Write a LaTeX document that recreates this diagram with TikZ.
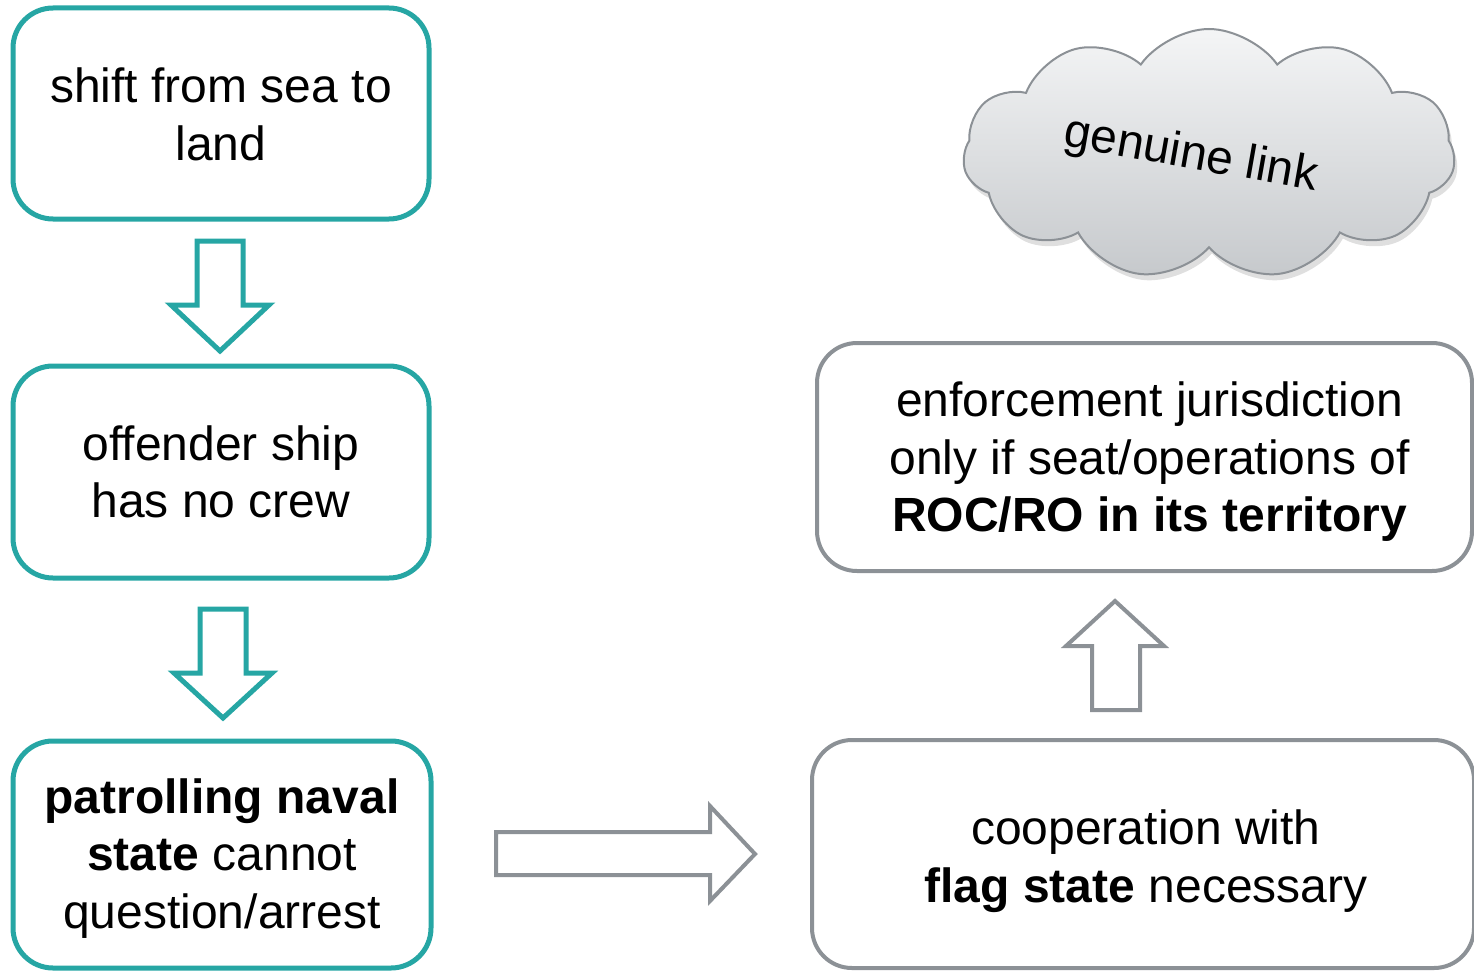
\documentclass[tikz,border=0pt]{standalone}
\usepackage{fontspec}
\setmainfont{Liberation Sans}
\usetikzlibrary{shapes.symbols,shadows}
\definecolor{tealline}{RGB}{38,166,164}
\definecolor{greyline}{RGB}{140,145,150}
\definecolor{cloudtop}{RGB}{244,245,246}
\definecolor{cloudbot}{RGB}{198,201,204}
\tikzset{
  boxtext/.style={font=\fontsize{48}{57.5}\selectfont, align=center, text=black, inner sep=0pt},
  tealbox/.style={draw=tealline, line width=5pt, rounded corners=40pt, fill=white},
  greybox/.style={draw=greyline, line width=4pt, rounded corners=40pt, fill=white},
  tealarrow/.style={draw=tealline, line width=5pt, fill=white, line join=miter},
  greyarrow/.style={draw=greyline, line width=4pt, fill=white, line join=miter},
}
\begin{document}
\begin{tikzpicture}[x=1pt,y=-1pt]
\useasboundingbox (0,0) rectangle (1474,971);

% left column
\node[tealbox, minimum width=416pt, minimum height=211pt] (shift) at (221,113.5) {};
\node[boxtext] (shifttext) at ([yshift=-1pt]shift.center) {shift from sea to\\land};
\node[tealbox, minimum width=416pt, minimum height=212pt] (crew) at (221,472) {};
\node[boxtext] (crewtext) at (crew.center) {offender ship\\has no crew};
\node[tealbox, minimum width=418pt, minimum height=227pt] (naval) at (222,854.5) {};
\node[boxtext] (navaltext) at ([yshift=-4pt]naval.center)
  {\textbf{patrolling naval}\\\textbf{state} cannot\\question/arrest};

% right column
\node[greybox, minimum width=655pt, minimum height=228pt] (enforce) at (1144.5,457) {};
\node[boxtext] (enforcetext) at ([xshift=5pt,yshift=-5pt]enforce.center)
  {enforcement jurisdiction\\only if seat/operations of\\\textbf{ROC/RO in its territory}};
\node[greybox, minimum width=662pt, minimum height=228pt] (coop) at (1143,854) {};
\node[boxtext] (cooptext) at ([xshift=3pt,yshift=-7pt]coop.center)
  {cooperation with\\\textbf{flag state} necessary};

% cloud
\node[cloud, cloud puffs=11, cloud puff arc=110, aspect=2,
      minimum width=492pt, minimum height=250pt,
      draw=greyline, line width=2pt,
      top color=cloudtop, bottom color=cloudbot,
      drop shadow={opacity=0.25, shadow xshift=3pt, shadow yshift=-6pt}] (cloud) at (1209,154) {};
\node[font=\fontsize{48}{57.5}\selectfont, rotate=-10] (link) at ([xshift=-18pt,yshift=-2pt]cloud.center) {genuine link};

% block arrows
\draw[tealarrow] (197,241) -- (243,241) -- (243,305) -- (269,305) -- (220,351)
  -- (171,305) -- (197,305) -- cycle;
\draw[tealarrow] (200,609) -- (246,609) -- (246,673) -- (272,673) -- (223,718)
  -- (174,673) -- (200,673) -- cycle;
\draw[greyarrow] (496,832) -- (710,832) -- (710,806) -- (755,854) -- (710,901)
  -- (710,875) -- (496,875) -- cycle;
\draw[greyarrow] (1092,710) -- (1092,646) -- (1066,646) -- (1115,601) -- (1164,646)
  -- (1140,646) -- (1140,710) -- cycle;
\end{tikzpicture}
\end{document}
